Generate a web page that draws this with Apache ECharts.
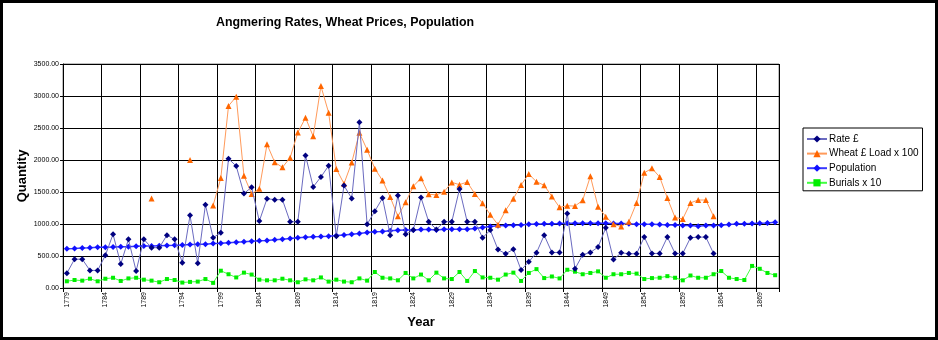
<!DOCTYPE html>
<html>
<head>
<meta charset="utf-8">
<script src="https://cdn.jsdelivr.net/npm/echarts@6/dist/echarts.min.js"></script>
<style>
html,body{margin:0;padding:0;background:#fff;}
#wrap{position:relative;width:938px;height:340px;}
#chart{position:absolute;left:0;top:0;width:938px;height:340px;}
#frame{position:absolute;left:0;top:0;width:938px;height:340px;box-sizing:border-box;border:3px solid #000;pointer-events:none;}
</style>
</head>
<body>
<div id="wrap"><div id="chart"></div><div id="frame"></div></div>
<script>
const firstYear = 1779;
const lastYear = 1871;
const years = [];
for (let y = firstYear; y <= lastYear; y++) years.push(String(y));

const rate = [230,450,450,275,275,510,840,375,760,265,760,630,630,825,760,395,1135,385,1300,785,
865,2020,1905,1475,1575,1045,1395,1380,1380,1035,1035,2070,1580,1735,1910,810,1600,1400,2590,995,
1200,1405,825,1445,840,905,1415,1035,915,1035,1035,1545,1035,1035,785,905,600,535,605,280,
410,550,825,555,555,1165,300,520,555,640,940,445,550,535,535,795,540,540,795,540,
540,785,795,795,540,null,null,null,null,null,null,null,null];

const wheat = [null,null,null,null,null,null,null,null,null,null,null,1400,null,null,null,null,2000,null,null,1290,
1720,2845,2990,1755,1470,1550,2245,1965,1885,2035,2430,2660,2370,3155,2740,1860,1630,1960,2425,2160,
1865,1680,1420,1120,1340,1590,1715,1465,1455,1505,1650,1615,1655,1470,1325,1145,990,1215,1395,1610,
1780,1660,1605,1430,1260,1285,1280,1370,1745,1270,1115,995,960,1035,1330,1800,1870,1735,1405,1100,
1080,1330,1375,1375,1120,null,null,null,null,null,null,null,null];

const population = [615,618,625,628,635,638,640,643,645,652,655,658,662,665,668,672,680,682,685,695,
700,706,716,721,732,737,742,753,763,773,784,794,799,804,810,820,830,841,851,867,
877,882,893,903,908,908,915,913,908,919,919,919,919,929,945,960,971,976,981,986,
996,1000,1002,1005,1007,1010,1012,1012,1012,1012,1012,1007,1007,1002,996,996,996,991,986,986,
976,976,965,976,976,981,991,1002,1002,1007,1012,1017,1028];

const burials = [105,125,115,145,105,145,160,110,150,160,130,115,90,140,125,85,95,100,140,80,
270,215,165,240,210,130,120,120,145,120,90,135,120,165,100,130,100,90,150,115,
250,160,150,120,235,150,210,120,240,150,140,250,110,265,165,160,130,210,240,110,
235,295,155,180,150,285,255,215,235,260,160,215,215,235,225,140,155,160,185,160,
120,195,160,160,215,265,160,140,125,345,300,235,200];

const yTicks = {min: 0, max: 3500, step: 500};
const seriesNames = ['Rate £', 'Wheat £ Load x 100', 'Population', 'Burials x 10'];

const FONT = '"Liberation Sans", Arial, sans-serif';
const chart = echarts.init(document.getElementById('chart'), null, {renderer: 'canvas'});
chart.setOption({
  animation: false,
  backgroundColor: '#ffffff',
  textStyle: {fontFamily: FONT, color: '#000'},
  title: {
    text: 'Angmering Rates, Wheat Prices, Population',
    left: 211, top: 12,
    textStyle: {fontFamily: FONT, fontSize: 12.4, fontWeight: 'bold', color: '#000'}
  },
  legend: {
    orient: 'vertical',
    left: 803, top: 128,
    width: 118,
    padding: [6, 4, 3, 3],
    itemGap: 4.6,
    itemWidth: 20,
    itemHeight: 9,
    borderColor: '#000',
    borderWidth: 1,
    backgroundColor: '#fff',
    textStyle: {fontFamily: FONT, fontSize: 10, color: '#000', padding: [0, 0, 0, -3]},
    data: seriesNames
  },
  grid: {left: 63, top: 64, width: 716, height: 224, show: true, borderColor: '#808080', borderWidth: 1, backgroundColor: '#fff'},
  xAxis: {
    type: 'category',
    data: years,
    boundaryGap: true,
    name: 'Year',
    nameLocation: 'middle',
    nameGap: 28,
    nameMoveOverlap: false,
    nameTextStyle: {fontFamily: FONT, fontSize: 13, fontWeight: 'bold', color: '#000'},
    axisLine: {lineStyle: {color: '#000', width: 1}},
    axisTick: {show: true, interval: 4, length: 4, lineStyle: {color: '#000'}},
    axisLabel: {interval: 4, rotate: 90, fontSize: 7, fontFamily: FONT, color: '#000', margin: 4},
    splitLine: {show: true, interval: 4, lineStyle: {color: '#000', width: 1}}
  },
  yAxis: {
    type: 'value',
    min: yTicks.min, max: yTicks.max, interval: yTicks.step,
    name: 'Quantity',
    nameLocation: 'middle',
    nameGap: 34,
    nameMoveOverlap: false,
    nameTextStyle: {fontFamily: FONT, fontSize: 13, fontWeight: 'bold', color: '#000'},
    axisLine: {show: true, lineStyle: {color: '#000', width: 1}},
    axisTick: {show: true, length: 3, lineStyle: {color: '#000'}},
    axisLabel: {fontSize: 7, fontFamily: FONT, color: '#000', margin: 4, formatter: v => v.toFixed(2)},
    splitLine: {show: true, lineStyle: {color: '#000', width: 1}}
  },
  series: [
    {
      name: seriesNames[0], type: 'line', data: rate,
      symbol: 'diamond', symbolSize: 6, showAllSymbol: true,
      lineStyle: {color: '#6a6ac0', width: 1},
      itemStyle: {color: '#000080'},
      z: 4
    },
    {
      name: seriesNames[1], type: 'line', data: wheat,
      symbol: 'triangle', symbolSize: 6, showAllSymbol: true,
      lineStyle: {color: '#ff9a5a', width: 1},
      itemStyle: {color: '#ff6600'},
      z: 3
    },
    {
      name: seriesNames[2], type: 'line', data: population,
      symbol: 'diamond', symbolSize: 6, showAllSymbol: true,
      lineStyle: {color: '#3838ff', width: 1.5},
      itemStyle: {color: '#1010ff'},
      z: 2
    },
    {
      name: seriesNames[3], type: 'line', data: burials,
      symbol: 'rect', symbolSize: 4, showAllSymbol: true,
      lineStyle: {color: '#40ff40', width: 1},
      itemStyle: {color: '#00ee00'},
      z: 1
    }
  ]
});
</script>
</body>
</html>
